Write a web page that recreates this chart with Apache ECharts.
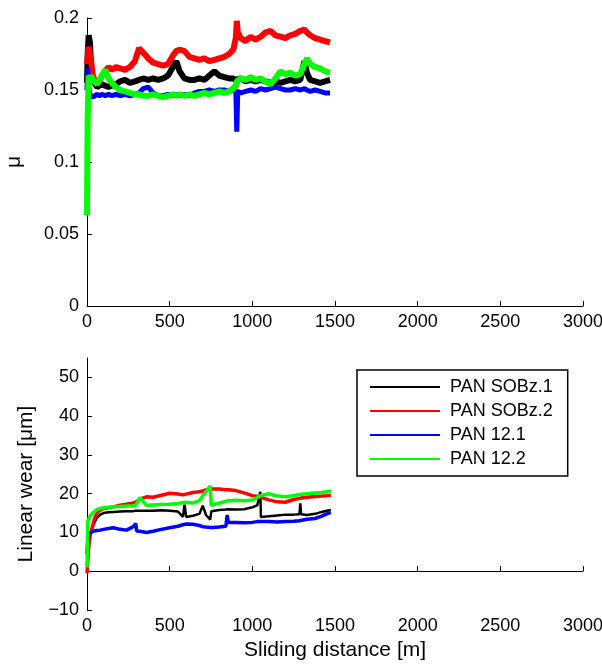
<!DOCTYPE html>
<html>
<head>
<meta charset="utf-8">
<script src="https://cdn.jsdelivr.net/npm/echarts@6/dist/echarts.min.js"></script>
<style>
  html, body { margin: 0; padding: 0; background: #fff; }
  #main { width: 602px; height: 670px; }
</style>
</head>
<body>
<div id="main"></div>
<script>
// series names and colours (MATLAB k, r, b, g)
var names = ['PAN SOBz.1', 'PAN SOBz.2', 'PAN 12.1', 'PAN 12.2'];
var colors = ['#000000', '#ff0000', '#0000ff', '#00ff00'];

var xTicks = [0, 500, 1000, 1500, 2000, 2500, 3000];
var muTicks = [0, 0.05, 0.1, 0.15, 0.2];
var wearTicks = [-10, 0, 10, 20, 30, 40, 50];

// friction coefficient, upper panel
var muDist = [0, 4, 10, 18, 25, 35, 45, 60, 75, 90,
    110, 130, 150, 175, 200, 230, 260, 290, 315, 340,
    370, 400, 430, 460, 490, 520, 540, 560, 590, 620,
    650, 680, 710, 740, 770, 800, 830, 860, 885, 900,
    906, 912, 930, 960, 990, 1020, 1050, 1080, 1110, 1140,
    1170, 1200, 1230, 1260, 1290, 1315, 1330, 1350, 1380, 1410,
    1440, 1470];
var muSOBz1 = [0.155, 0.175, 0.188, 0.183, 0.165, 0.158, 0.155, 0.152, 0.153, 0.154,
    0.153, 0.152, 0.153, 0.154, 0.156, 0.157, 0.155, 0.156, 0.157, 0.158,
    0.157, 0.158, 0.157, 0.158, 0.160, 0.166, 0.170, 0.163, 0.158, 0.157,
    0.157, 0.158, 0.157, 0.160, 0.163, 0.160, 0.159, 0.158, 0.158, 0.157,
    0.157, 0.157, 0.158, 0.156, 0.157, 0.156, 0.157, 0.156, 0.155, 0.156,
    0.155, 0.156, 0.157, 0.156, 0.157, 0.170, 0.162, 0.157, 0.156, 0.155,
    0.156, 0.157];
var muSOBz2 = [0.168, 0.172, 0.180, 0.181, 0.170, 0.160, 0.157, 0.155, 0.156, 0.160,
    0.163, 0.166, 0.164, 0.166, 0.165, 0.164, 0.166, 0.170, 0.179, 0.176,
    0.172, 0.169, 0.168, 0.167, 0.168, 0.174, 0.177, 0.178, 0.177, 0.173,
    0.172, 0.171, 0.172, 0.170, 0.171, 0.172, 0.173, 0.175, 0.178, 0.186,
    0.198, 0.190, 0.186, 0.184, 0.187, 0.185, 0.187, 0.190, 0.191, 0.188,
    0.187, 0.186, 0.188, 0.189, 0.191, 0.192, 0.190, 0.188, 0.186, 0.185,
    0.184, 0.183];
var mu121 = [0.150, 0.165, 0.152, 0.147, 0.146, 0.145, 0.146, 0.147, 0.146, 0.147,
    0.146, 0.147, 0.146, 0.147, 0.146, 0.147, 0.146, 0.147, 0.148, 0.151,
    0.152, 0.148, 0.146, 0.146, 0.147, 0.146, 0.147, 0.146, 0.147, 0.146,
    0.148, 0.149, 0.149, 0.150, 0.149, 0.150, 0.150, 0.149, 0.150, 0.150,
    0.121, 0.149, 0.148, 0.149, 0.150, 0.149, 0.151, 0.150, 0.151, 0.152,
    0.151, 0.150, 0.150, 0.151, 0.150, 0.151, 0.150, 0.149, 0.150, 0.149,
    0.148, 0.148];
var mu122 = [0.063, 0.130, 0.160, 0.158, 0.160, 0.157, 0.158, 0.154, 0.157, 0.160,
    0.164, 0.158, 0.155, 0.152, 0.150, 0.149, 0.148, 0.147, 0.147, 0.146,
    0.146, 0.147, 0.146, 0.145, 0.146, 0.147, 0.146, 0.147, 0.146, 0.147,
    0.146, 0.147, 0.148, 0.147, 0.148, 0.149, 0.148, 0.149, 0.151, 0.153,
    0.156, 0.157, 0.158, 0.157, 0.159, 0.157, 0.158, 0.156, 0.154, 0.158,
    0.163, 0.161, 0.162, 0.160, 0.161, 0.168, 0.172, 0.168, 0.166, 0.165,
    0.163, 0.162];

// linear wear [um], lower panel
var wearDist = [0, 5, 12, 20, 30, 45, 60, 80, 100, 130,
    160, 200, 240, 280, 295, 300, 320, 360, 400, 450,
    500, 550, 580, 590, 600, 640, 680, 700, 720, 745,
    752, 760, 800, 840, 848, 855, 900, 950, 1000, 1030,
    1048, 1052, 1060, 1100, 1150, 1200, 1250, 1285, 1290, 1295,
    1330, 1380, 1420, 1450, 1475];
var wearSOBz1 = [4.5, 5.5, 7.5, 9.5, 11, 12.5, 13.8, 14.6, 15, 15.2,
    15.3, 15.4, 15.5, 15.5, 15.6, 15.6, 15.6, 15.6, 15.6, 15.7,
    15.6, 15.4, 14, 17.2, 14, 14.3, 14.8, 16.9, 14.5, 13.3,
    15.5, 15.8, 15.8, 15.9, 15.9, 16, 15.9, 16, 16.5, 17,
    20.5, 14, 14, 14.2, 14.4, 14.6, 14.6, 14.7, 17.5, 14.7,
    14.5, 14.8, 15.3, 15.6, 15.8];
var wearSOBz2 = [-0.5, 3, 7, 9.5, 11, 13.5, 15, 15.8, 16.2, 16.4,
    16.6, 17, 17.3, 17.6, 17.8, 18.2, 18.6, 19.2, 19.1, 19.6,
    20.1, 19.9, 19.7, 19.8, 19.9, 20.3, 20.5, 20.7, 21, 21.1,
    21.2, 21.2, 21.2, 21, 21, 21, 20.8, 20.2, 19.5, 19.3,
    19.1, 19, 19, 18.4, 17.9, 17.8, 18.5, 18.8, 18.9, 19,
    19.1, 19.3, 19.4, 19.5, 19.6];
var wear121 = [4.5, 8.5, 9.5, 10, 10.2, 10.4, 10.5, 10.6, 10.8, 11,
    11.2, 10.8, 10.6, 11.5, 12.3, 10.4, 10.3, 10, 10.3, 10.8,
    11.2, 11.6, 12, 12.1, 12.2, 12.1, 11.8, 11.5, 11.4, 11.3,
    11.3, 11.3, 11.4, 11.6, 14.5, 12.6, 12.6, 12.5, 12.6, 12.8,
    12.8, 12.8, 12.7, 12.8, 12.7, 12.8, 12.9, 13, 13, 13,
    13.4, 13.6, 14.2, 14.8, 15.2];
var wear122 = [1, 13, 13.6, 14.3, 14.8, 15.4, 15.9, 16.2, 16.4, 16.5,
    16.6, 16.7, 16.8, 16.9, 17, 17, 19, 17, 17.1, 17.2,
    17.3, 17.5, 17.7, 17.8, 17.8, 17.6, 18.2, 19.5, 20.5, 22,
    17, 17.2, 17.6, 18, 18.1, 18.2, 18.3, 18.2, 18.4, 19,
    19.5, 19.6, 19.8, 20, 19.4, 19.2, 19.5, 19.8, 19.8, 19.8,
    20, 20.2, 20.3, 20.5, 20.7];

var font = '"Liberation Sans", Arial, Helvetica, sans-serif';

function pairs(xs, ys) {
    return xs.map(function (x, i) { return [x, ys[i]]; });
}

function makeX(idx, withName) {
    var ax = {
        type: 'value', gridIndex: idx, min: 0, max: 3000, interval: 500,
        axisLine: { show: true, lineStyle: { color: '#000', width: 1 } },
        axisTick: { show: true, inside: true, length: 5, customValues: xTicks, lineStyle: { color: '#000' } },
        axisLabel: { color: '#000', fontSize: 18, fontFamily: font, margin: 7, customValues: xTicks,
            formatter: function (v) { return String(v); } },
        splitLine: { show: false }
    };
    if (withName) {
        ax.name = 'Sliding distance [m]';
        ax.nameLocation = 'middle';
        ax.nameGap = 30;
        ax.nameTextStyle = { color: '#000', fontSize: 21, fontFamily: font };
    }
    return ax;
}

function makeY(idx, min, max, ticks, name, gap, fmt) {
    return {
        type: 'value', gridIndex: idx, min: min, max: max,
        name: name, nameLocation: 'middle', nameGap: gap,
        nameTextStyle: { color: '#000', fontSize: 21, fontFamily: font },
        axisLine: { show: true, lineStyle: { color: '#000', width: 1 } },
        axisTick: { show: true, inside: true, length: 5, customValues: ticks, lineStyle: { color: '#000' } },
        axisLabel: { color: '#000', fontSize: 18, fontFamily: font, margin: 8, customValues: ticks, formatter: fmt },
        splitLine: { show: false }
    };
}

var muSets = [muSOBz1, muSOBz2, mu121, mu122];
var wearSets = [wearSOBz1, wearSOBz2, wear121, wear122];
var wearWidths = [2.5, 3.5, 3.5, 3.5];
var series = [];
names.forEach(function (n, i) {
    series.push({
        name: n, type: 'line', xAxisIndex: 0, yAxisIndex: 0,
        data: pairs(muDist, muSets[i]),
        showSymbol: false, symbol: 'none',
        lineStyle: { color: colors[i], width: i === 2 ? 5 : 6 },
        itemStyle: { color: colors[i] }
    });
});
names.forEach(function (n, i) {
    series.push({
        name: n, type: 'line', xAxisIndex: 1, yAxisIndex: 1,
        data: pairs(wearDist, wearSets[i]),
        showSymbol: false, symbol: 'none',
        lineStyle: { color: colors[i], width: wearWidths[i] },
        itemStyle: { color: colors[i] }
    });
});

var chart = echarts.init(document.getElementById('main'));
var option = {
    animation: false,
    backgroundColor: '#fff',
    grid: [
        { left: 87, right: 19, top: 18, height: 288, outerBoundsMode: 'none' },
        { left: 87, right: 19, top: 358, height: 252, outerBoundsMode: 'none' }
    ],
    xAxis: [makeX(0, false), makeX(1, true)],
    yAxis: [
        makeY(0, 0, 0.2, muTicks, 'μ', 62, function (v) { return String(v); }),
        makeY(1, -10, 55, wearTicks, 'Linear wear [μm]', 50, function (v) {
            return v < 0 ? '\u2212' + Math.abs(v) : String(v);
        })
    ],
    legend: {
        data: names,
        orient: 'vertical',
        left: 357, top: 370,
        icon: 'rect',
        itemWidth: 70, itemHeight: 2,
        itemGap: 6,
        padding: [8, 15, 8, 13],
        borderColor: '#000', borderWidth: 1.5,
        backgroundColor: '#fff',
        textStyle: { color: '#000', fontSize: 18, fontFamily: font, padding: [0, 0, 0, 5] }
    },
    series: series
};
chart.setOption(option);
</script>
</body>
</html>
